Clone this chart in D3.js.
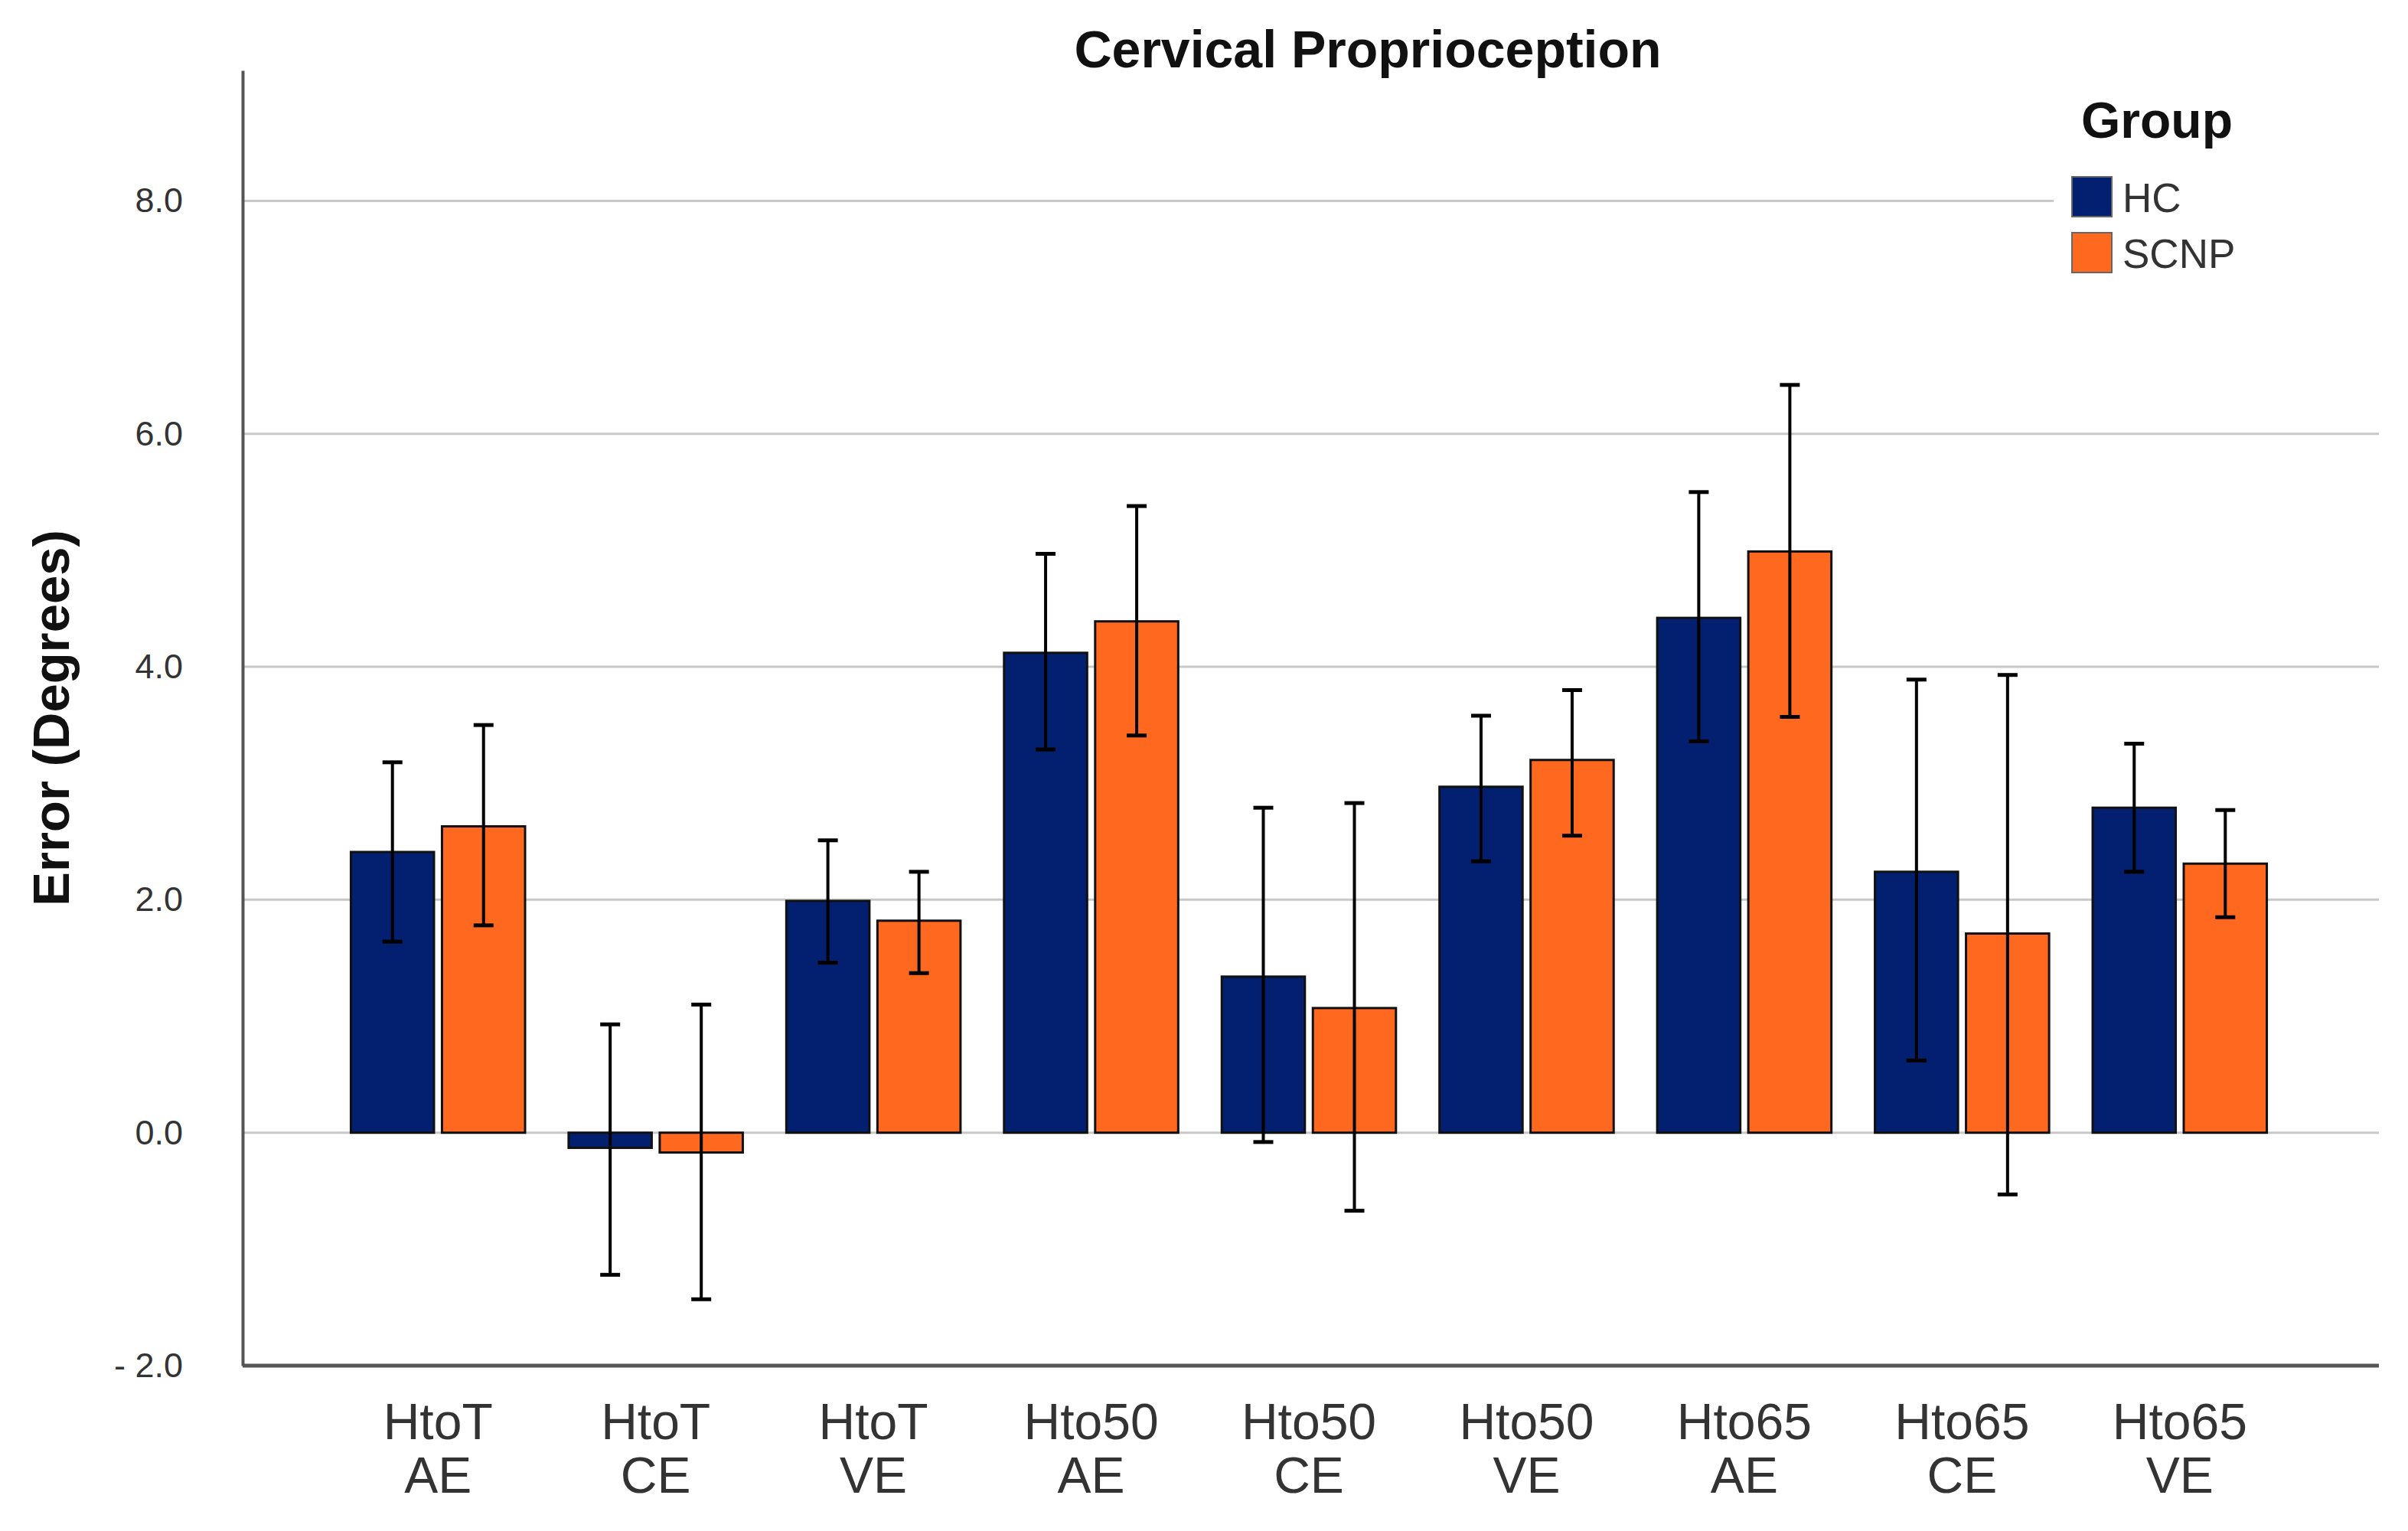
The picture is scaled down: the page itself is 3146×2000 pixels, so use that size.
<!DOCTYPE html>
<html>
<head>
<meta charset="utf-8">
<script src="https://cdn.jsdelivr.net/npm/d3@7"></script>
<style>
  body { margin: 0; background: #fff; }
  text { font-family: Arial, "Liberation Sans", sans-serif; }
</style>
</head>
<body>
<div id="chart"></div>
<script>
// data
var categories = ["HtoT AE", "HtoT CE", "HtoT VE", "Hto50 AE", "Hto50 CE", "Hto50 VE", "Hto65 AE", "Hto65 CE", "Hto65 VE"];
var groups = ["HC", "SCNP"];
var hcMean  = [2.41, -0.13, 1.99, 4.12, 1.34, 2.97, 4.42, 2.24, 2.79];
var hcLow   = [1.64, -1.22, 1.46, 3.29, -0.08, 2.33, 3.36, 0.62, 2.24];
var hcHigh  = [3.18, 0.93, 2.51, 4.97, 2.79, 3.58, 5.50, 3.89, 3.34];
var scnpMean = [2.63, -0.17, 1.82, 4.39, 1.07, 3.20, 4.99, 1.71, 2.31];
var scnpLow  = [1.78, -1.43, 1.37, 3.41, -0.67, 2.55, 3.57, -0.53, 1.85];
var scnpHigh = [3.50, 1.10, 2.24, 5.38, 2.83, 3.80, 6.42, 3.93, 2.77];
var yTicks = [-2, 0, 2, 4, 6, 8];
var yTickLabels = ["- 2.0", "0.0", "2.0", "4.0", "6.0", "8.0"];
var colors = {HC: "#021f70", SCNP: "#ff691f"};

var W = 3146, H = 2000;
var plotLeft = 317, plotRight = 3108, plotTop = 92, plotBottom = 1784;

var svg = d3.select("#chart").append("svg")
    .attr("width", W).attr("height", H);

var y = d3.scaleLinear().domain([-2, 9.12]).range([plotBottom, plotTop]);
var x = d3.scaleBand().domain(categories).range([430, 2990])
    .paddingInner(0.2).paddingOuter(0.1);
var xg = d3.scaleBand().domain(groups).range([0, x.bandwidth()]).paddingInner(0.088);

// rows for bars
var rows = [];
categories.forEach(function(c, i) {
    rows.push({cat: c, group: "HC", mean: hcMean[i], lo: hcLow[i], hi: hcHigh[i]});
    rows.push({cat: c, group: "SCNP", mean: scnpMean[i], lo: scnpLow[i], hi: scnpHigh[i]});
});

// gridlines (8.0 stops before the legend)
svg.append("g").selectAll("line")
    .data(yTicks.filter(function(d) { return d > -2; }))
    .enter().append("line")
    .attr("x1", plotLeft).attr("x2", function(d) { return d == 8 ? 2683 : plotRight; })
    .attr("y1", function(d) { return y(d); }).attr("y2", function(d) { return y(d); })
    .attr("stroke", "#c8c8c8").attr("stroke-width", 3);

// bars
svg.append("g").selectAll("rect")
    .data(rows)
    .enter().append("rect")
    .attr("x", function(d) { return x(d.cat) + xg(d.group); })
    .attr("width", xg.bandwidth())
    .attr("y", function(d) { return y(Math.max(0, d.mean)); })
    .attr("height", function(d) { return Math.abs(y(d.mean) - y(0)); })
    .attr("fill", function(d) { return colors[d.group]; })
    .attr("stroke", "#111").attr("stroke-width", 3);

// error bars
var eb = svg.append("g").selectAll("g")
    .data(rows)
    .enter().append("g")
    .attr("transform", function(d) { return "translate(" + (x(d.cat) + xg(d.group) + xg.bandwidth() / 2) + ",0)"; });
eb.append("line")
    .attr("y1", function(d) { return y(d.lo); }).attr("y2", function(d) { return y(d.hi); })
    .attr("stroke", "#000").attr("stroke-width", 4);
eb.append("line")
    .attr("x1", -13).attr("x2", 13)
    .attr("y1", function(d) { return y(d.lo); }).attr("y2", function(d) { return y(d.lo); })
    .attr("stroke", "#000").attr("stroke-width", 5);
eb.append("line")
    .attr("x1", -13).attr("x2", 13)
    .attr("y1", function(d) { return y(d.hi); }).attr("y2", function(d) { return y(d.hi); })
    .attr("stroke", "#000").attr("stroke-width", 5);

// y axis
var yAxis = svg.append("g")
    .attr("transform", "translate(" + plotLeft + ",0)")
    .call(d3.axisLeft(y).tickValues(yTicks).tickSize(0).tickPadding(78)
        .tickFormat(function(d, i) { return yTickLabels[i]; }));
yAxis.select(".domain").attr("stroke", "#555").attr("stroke-width", 4);
yAxis.selectAll("text").attr("font-size", 45).attr("fill", "#333");

// x axis
var xAxis = svg.append("g")
    .attr("transform", "translate(0," + plotBottom + ")")
    .call(d3.axisBottom(x).tickSize(0).tickFormat(""));
xAxis.select(".domain").attr("d", "M" + plotLeft + ",0H" + plotRight).attr("stroke", "#555").attr("stroke-width", 5);
var xl = xAxis.selectAll(".tick").append("text")
    .attr("fill", "#333").attr("font-size", 66).attr("text-anchor", "middle");
xl.append("tspan").attr("x", 0).attr("y", 96).text(function(d) { return d.split(" ")[0]; });
xl.append("tspan").attr("x", 0).attr("y", 166).text(function(d) { return d.split(" ")[1]; });

// title and axis label
svg.append("text")
    .attr("x", 1787).attr("y", 88)
    .attr("text-anchor", "middle").attr("font-weight", "bold").attr("font-size", 68)
    .attr("fill", "#111")
    .text("Cervical Proprioception");

svg.append("text")
    .attr("transform", "translate(90,938) rotate(-90)")
    .attr("text-anchor", "middle").attr("font-weight", "bold").attr("font-size", 67)
    .attr("fill", "#111")
    .text("Error (Degrees)");

// legend
var legend = svg.append("g");
legend.append("text")
    .attr("x", 2818).attr("y", 180)
    .attr("text-anchor", "middle").attr("font-weight", "bold").attr("font-size", 66)
    .attr("fill", "#111")
    .text("Group");
var li = legend.selectAll("g.item")
    .data(groups)
    .enter().append("g")
    .attr("class", "item")
    .attr("transform", function(d, i) { return "translate(2707," + (231 + i * 73) + ")"; });
li.append("rect")
    .attr("width", 52).attr("height", 52)
    .attr("fill", function(d) { return colors[d]; })
    .attr("stroke", "#666").attr("stroke-width", 2);
li.append("text")
    .attr("x", 66).attr("y", 46)
    .attr("font-size", 53).attr("fill", "#333")
    .text(function(d) { return d; });
</script>
</body>
</html>
